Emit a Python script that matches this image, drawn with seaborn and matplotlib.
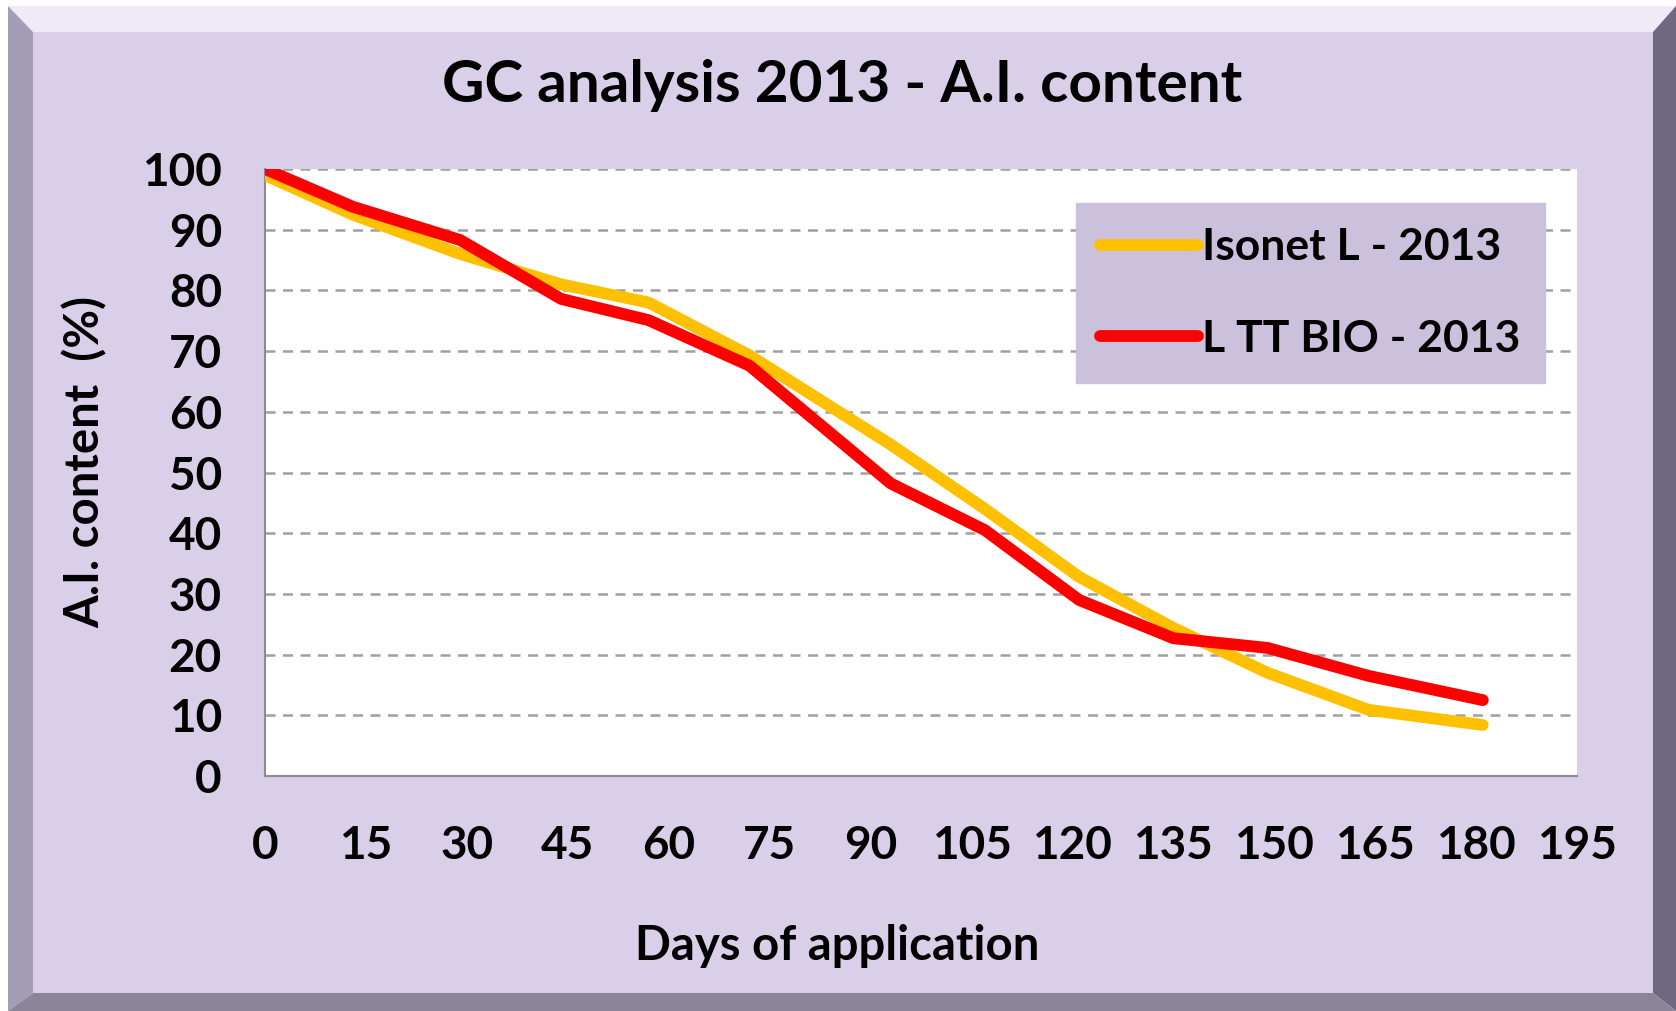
"""
GC analysis 2013 - A.I. content over days of application.
"""

import matplotlib
matplotlib.use("Agg")
import matplotlib.pyplot as plt
from matplotlib.patches import Polygon
import pandas as pd
import seaborn as sns

# data
days = [0, 13, 29, 44, 57, 72, 93, 107, 121, 135, 149, 164, 181]
isonet_l = [99, 92.5, 86, 81, 78, 69.3, 54.6, 44, 32.8, 24.4, 17, 10.9, 8.4]
ltt_bio = [100, 93.8, 88.3, 78.6, 75.1, 67.6, 48.2, 40.5, 29, 22.7, 21.1, 16.5, 12.5]
series_names = ["Isonet L - 2013", "L TT BIO - 2013"]
series_colors = ["#FFC000", "#FF0000"]
x_ticks = list(range(0, 196, 15))
y_ticks = list(range(0, 101, 10))

W, H = 1676, 1011
LAVENDER = "#D9CFE8"

sns.set_theme(style="white")
plt.rcParams["font.family"] = ["Lato", "DejaVu Sans"]
plt.rcParams["text.color"] = "black"

fig = plt.figure(figsize=(W / 100, H / 100), dpi=100)
fig.patch.set_facecolor("white")


def fx(px):
    return px / W


def fy(py):
    return 1 - py / H


# bevelled frame
outer = (8, 6, W, H)       # left, top, right, bottom (pixels)
inner = (33, 32, 1653, 993)
ol, ot, orr, ob = outer
il, it, ir, ib = inner
bevels = [
    ([(ol, ot), (orr, ot), (ir, it), (il, it)], "#EFE9F8"),   # top
    ([(ol, ot), (il, it), (il, ib), (ol, ob)], "#A59CB6"),   # left
    ([(orr, ot), (orr, ob), (ir, ib), (ir, it)], "#6F6882"),  # right
    ([(ol, ob), (orr, ob), (ir, ib), (il, ib)], "#8C8499"),  # bottom
]
for pts, col in bevels:
    fig.patches.append(Polygon([(fx(x), fy(y)) for x, y in pts], closed=True,
                               transform=fig.transFigure, facecolor=col,
                               edgecolor="none", zorder=-10))
fig.patches.append(Polygon([(fx(il), fy(it)), (fx(ir), fy(it)), (fx(ir), fy(ib)),
                            (fx(il), fy(ib))], closed=True, transform=fig.transFigure,
                           facecolor=LAVENDER, edgecolor="none", zorder=-10))

# plot area
ax_l, ax_r, ax_t, ax_b = 265, 1577, 169, 776
ax = fig.add_axes([fx(ax_l), fy(ax_b), fx(ax_r - ax_l), (ax_b - ax_t) / H])
ax.set_facecolor("white")
ax.set_zorder(1)

df = pd.DataFrame({"days": days, series_names[0]: isonet_l, series_names[1]: ltt_bio})
long_df = df.melt(id_vars="days", var_name="series", value_name="content")

sns.lineplot(data=long_df, x="days", y="content", hue="series",
             palette=dict(zip(series_names, series_colors)),
             linewidth=8.5, ax=ax, zorder=3,
             solid_capstyle="round", solid_joinstyle="round")

ax.set_xlim(0, 195)
ax.set_ylim(0, 100)
ax.set_xticks(x_ticks)
ax.set_yticks(y_ticks)
ax.yaxis.grid(True, linestyle=(0, (4, 3)), color="#A0A0A0", linewidth=1.8)
ax.xaxis.grid(False)
for side in ["top", "right"]:
    ax.spines[side].set_visible(False)
for side in ["left", "bottom"]:
    ax.spines[side].set_color("#8C8C8C")
    ax.spines[side].set_linewidth(1.5)

ax.tick_params(axis="both", which="major", direction="out", length=11, width=1.5,
               color="#8C8C8C", labelsize=33, labelcolor="black")
ax.tick_params(axis="x", pad=24)
ax.tick_params(axis="y", pad=20)
for lab in ax.get_xticklabels() + ax.get_yticklabels():
    lab.set_fontweight("bold")

ax.set_xlabel("")
ax.set_ylabel("")
fig.text(fx(783 * W / 1568), fy(885 * H / 946), "Days of application",
         fontsize=34, fontweight="bold", ha="center", va="center", color="black")
fig.text(fx(80 * W / 1568), fy(432 * H / 946), "A.I. content  (%)",
         fontsize=34, fontweight="bold", ha="center", va="center", rotation=90,
         color="black")
fig.text(fx(788 * W / 1568), fy(80 * H / 946), "GC analysis 2013 - A.I. content",
         fontsize=42, fontweight="bold", ha="center", va="center", color="black")

leg = ax.legend(loc="upper left", bbox_to_anchor=(0.618, 0.944), fontsize=32,
                frameon=True, fancybox=False, handlelength=2.2, handletextpad=0.1,
                labelspacing=1.15, borderpad=0.55, borderaxespad=0)
leg.get_frame().set_facecolor("#CCC1DC")
leg.get_frame().set_edgecolor("#CCC1DC")
leg.get_frame().set_alpha(1)
for t in leg.get_texts():
    t.set_fontweight("bold")
    t.set_color("black")
for h in leg.get_lines():
    h.set_linewidth(8.5)
    h.set_solid_capstyle("round")

plt.savefig("out.png", dpi=100, facecolor=fig.get_facecolor())
plt.close()
